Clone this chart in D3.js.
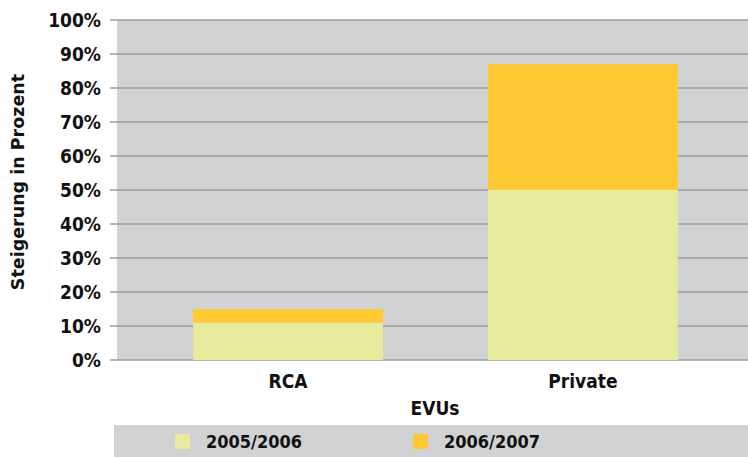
<!DOCTYPE html>
<html>
<head>
<meta charset="utf-8">
<script src="https://cdn.jsdelivr.net/npm/d3@7"></script>
<style>
	body { margin: 0; background: #fff; }
	.tickLabel { font-family: 'DejaVu Sans Condensed', 'DejaVu Sans', sans-serif; font-weight: bold; font-size: 19px; fill: #111; }
	.legendLabel { font-family: 'DejaVu Sans Condensed', 'DejaVu Sans', sans-serif; font-weight: bold; font-size: 18px; fill: #111; }
	.axisTitle { font-family: 'DejaVu Sans', sans-serif; font-weight: bold; font-size: 17.5px; fill: #111; }
</style>
</head>
<body>
<div id="js_chart"></div>
<script>
	'use strict';
	const categories = ['RCA', 'Private'];
	const seriesNames = ['2005/2006', '2006/2007'];
	// increase in percent per period (stacked)
	const values0506 = [11, 50];
	const values0607 = [4, 37];
	const yTicks = [0, 10, 20, 30, 40, 50, 60, 70, 80, 90, 100];
	const colors = ['#e8eb9b', '#ffc933'];

	const width = 748;
	const height = 457;
	const margin = { top: 20, right: 0, bottom: 97, left: 117 };
	const plotW = width - margin.left - margin.right;
	const plotH = height - margin.top - margin.bottom;

	let svg = d3.select('#js_chart').append('svg')
		.attr('width', width)
		.attr('height', height);

	let g = svg.append('g')
		.attr('transform', 'translate(' + margin.left + ',' + margin.top + ')');

	// band range runs a little past the visible right edge (cropped plot)
	let xScale = d3.scaleBand()
		.domain(categories)
		.range([0, 637])
		.paddingInner(0.356)
		.paddingOuter(0.258);

	let yScale = d3.scaleLinear()
		.domain([0, 100])
		.range([plotH, 0]);

	// plot background
	g.append('rect')
		.attr('x', 0)
		.attr('y', 0)
		.attr('width', plotW)
		.attr('height', plotH)
		.style('fill', '#d1d2d4');

	// grid lines + tick labels
	g.selectAll('.grid')
		.data(yTicks).enter().append('line')
		.attr('x1', -7)
		.attr('x2', plotW)
		.attr('y1', function (d) { return yScale(d); })
		.attr('y2', function (d) { return yScale(d); })
		.style('stroke', '#9c9ca0')
		.style('stroke-width', 1.5);

	g.selectAll('.tickLabel')
		.data(yTicks).enter().append('text')
		.classed('tickLabel', true)
		.attr('x', -16)
		.attr('y', function (d) { return yScale(d); })
		.attr('dy', '.36em')
		.attr('text-anchor', 'end')
		.text(function (d) { return d + '%'; });

	// stacked bars
	let stackData = categories.map(function (c, i) {
		return { cat: c, s0: values0506[i], s1: values0607[i] };
	});
	let stacked = d3.stack().keys(['s0', 's1'])(stackData);

	g.selectAll('.series')
		.data(stacked).enter().append('g')
		.style('fill', function (d, i) { return colors[i]; })
		.selectAll('rect')
		.data(function (d) { return d; }).enter().append('rect')
		.attr('x', function (d) { return xScale(d.data.cat); })
		.attr('y', function (d) { return yScale(d[1]); })
		.attr('width', xScale.bandwidth())
		.attr('height', function (d) { return yScale(d[0]) - yScale(d[1]); });

	// category labels
	g.selectAll('.catLabel')
		.data(categories).enter().append('text')
		.classed('tickLabel', true)
		.attr('x', function (d) { return xScale(d) + xScale.bandwidth() / 2; })
		.attr('y', plotH + 21)
		.attr('dy', '.36em')
		.attr('text-anchor', 'middle')
		.text(function (d) { return d; });

	// axis titles
	svg.append('text')
		.classed('tickLabel', true)
		.attr('x', 435)
		.attr('y', 408)
		.attr('dy', '.36em')
		.attr('text-anchor', 'middle')
		.text('EVUs');

	svg.append('text')
		.classed('axisTitle', true)
		.attr('transform', 'translate(18,182) rotate(-90)')
		.attr('dy', '.36em')
		.attr('text-anchor', 'middle')
		.text('Steigerung in Prozent');

	// legend
	svg.append('rect')
		.attr('x', 114)
		.attr('y', 425)
		.attr('width', width - 114)
		.attr('height', 32)
		.style('fill', '#d1d2d4');

	const legendX = [175, 413];
	let legend = svg.selectAll('.legendItem')
		.data(seriesNames).enter().append('g')
		.attr('transform', function (d, i) { return 'translate(' + legendX[i] + ',434)'; });
	legend.append('rect')
		.attr('width', 15)
		.attr('height', 15)
		.style('fill', function (d, i) { return colors[i]; });
	legend.append('text')
		.classed('legendLabel', true)
		.attr('x', 31)
		.attr('y', 8)
		.attr('dy', '.36em')
		.text(function (d) { return d; });
</script>
</body>
</html>
